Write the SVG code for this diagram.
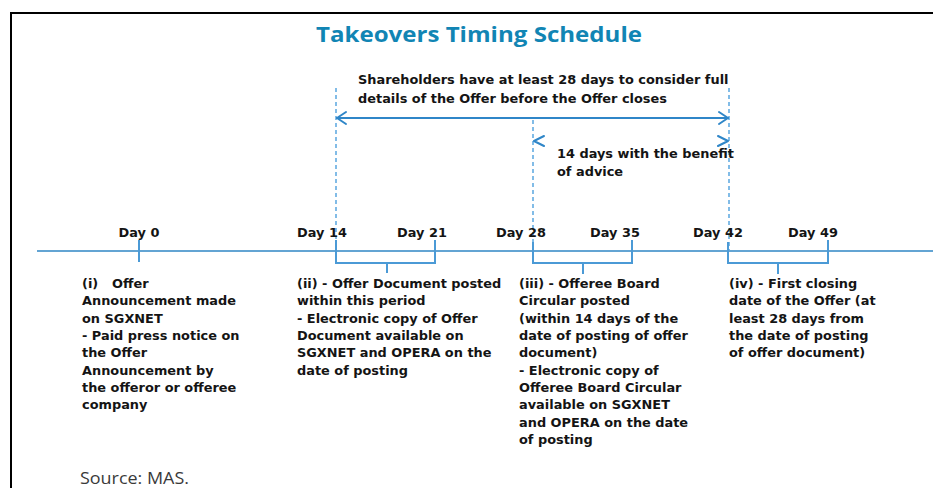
<svg xmlns="http://www.w3.org/2000/svg" width="933" height="488" viewBox="0 0 933 488">
  <style>
    .frame { stroke: #000; stroke-width: 2; fill: none; }
    .title { font-family: "Open Sans", "Liberation Sans", sans-serif; font-weight: bold; font-size: 21px; fill: #1185b4; }
    .lbl { font-family: "DejaVu Sans", "Liberation Sans", sans-serif; font-weight: bold; font-size: 12.9px; fill: #141414; }
    .src { font-family: "Open Sans", "Liberation Sans", sans-serif; font-size: 16px; fill: #3a3a3a; }
    .axis { stroke: #2f86c4; stroke-width: 1.5; fill: none; }
    .guide { stroke: #5aa7df; stroke-width: 1.5; stroke-dasharray: 4 3; fill: none; }
    .span { stroke: #2f86c8; stroke-width: 2; fill: none; stroke-linecap: round; stroke-linejoin: round; }
    .brace { stroke: #4b9ad6; stroke-width: 2; fill: none; }
  </style>

  <!-- page frame -->
  <path class="frame" d="M11,488 V13 H933"/>

  <text class="title" x="316" y="42" textLength="326" lengthAdjust="spacingAndGlyphs">Takeovers Timing Schedule</text>

  <g id="connectors">
    <!-- time axis -->
    <line class="axis" x1="37" y1="251" x2="933" y2="251"/>
    <!-- dashed guides -->
    <line class="guide" x1="336" y1="88" x2="336" y2="250"/>
    <line class="guide" x1="533" y1="120" x2="533" y2="250"/>
    <line class="guide" x1="729" y1="88" x2="729" y2="250"/>
    <!-- 28-day span -->
    <line class="span" x1="337" y1="118" x2="728" y2="118"/>
    <polyline class="span" points="346,112 337,118 346,124"/>
    <polyline class="span" points="719,112 728,118 719,124"/>
    <!-- 14-day span ends -->
    <polyline class="span" points="544,136 534,141 544,146"/>
    <polyline class="span" points="718,136 728,141 718,146"/>
    <!-- day 0 tick -->
    <line class="brace" x1="139" y1="240" x2="139" y2="262"/>
    <!-- period braces -->
    <path class="brace" d="M336,240 V263 H435 V240 M387,263 V273"/>
    <path class="brace" d="M533,242 V263 H632 V240 M583,263 V274"/>
    <path class="brace" d="M728,242 V263 H828 V240 M778,263 V274"/>
  </g>

  <g id="note-28-days">
    <text class="lbl" x="358" y="84">Shareholders have at least 28 days to consider full</text>
    <text class="lbl" x="358" y="103">details of the Offer before the Offer closes</text>
  </g>

  <g id="note-14-days">
    <text class="lbl" x="557" y="158">14 days with the benefit</text>
    <text class="lbl" x="557" y="176">of advice</text>
  </g>

  <g id="day-labels">
    <text class="lbl" x="139" y="237" text-anchor="middle">Day 0</text>
    <text class="lbl" x="322" y="237" text-anchor="middle">Day 14</text>
    <text class="lbl" x="422" y="237" text-anchor="middle">Day 21</text>
    <text class="lbl" x="521" y="237" text-anchor="middle">Day 28</text>
    <text class="lbl" x="615" y="237" text-anchor="middle">Day 35</text>
    <text class="lbl" x="718" y="237" text-anchor="middle">Day 42</text>
    <text class="lbl" x="813" y="237" text-anchor="middle">Day 49</text>
  </g>

  <g id="step-i">
    <text class="lbl" x="82" y="288">(i)<tspan x="112">Offer</tspan></text>
    <text class="lbl" x="82" y="305">Announcement made</text>
    <text class="lbl" x="82" y="323">on SGXNET</text>
    <text class="lbl" x="82" y="340">- Paid press notice on</text>
    <text class="lbl" x="82" y="357">the Offer</text>
    <text class="lbl" x="82" y="375">Announcement by</text>
    <text class="lbl" x="82" y="392">the offeror or offeree</text>
    <text class="lbl" x="82" y="409">company</text>
  </g>

  <g id="step-ii">
    <text class="lbl" x="297" y="288">(ii) - Offer Document posted</text>
    <text class="lbl" x="297" y="305">within this period</text>
    <text class="lbl" x="297" y="323">- Electronic copy of Offer</text>
    <text class="lbl" x="297" y="340">Document available on</text>
    <text class="lbl" x="297" y="357">SGXNET and OPERA on the</text>
    <text class="lbl" x="297" y="375">date of posting</text>
  </g>

  <g id="step-iii">
    <text class="lbl" x="519" y="288">(iii) - Offeree Board</text>
    <text class="lbl" x="519" y="305">Circular posted</text>
    <text class="lbl" x="519" y="323">(within 14 days of the</text>
    <text class="lbl" x="519" y="340">date of posting of offer</text>
    <text class="lbl" x="519" y="357">document)</text>
    <text class="lbl" x="519" y="375">- Electronic copy of</text>
    <text class="lbl" x="519" y="392">Offeree Board Circular</text>
    <text class="lbl" x="519" y="409">available on SGXNET</text>
    <text class="lbl" x="519" y="427">and OPERA on the date</text>
    <text class="lbl" x="519" y="444">of posting</text>
  </g>

  <g id="step-iv">
    <text class="lbl" x="729" y="288">(iv) - First closing</text>
    <text class="lbl" x="729" y="305">date of the Offer (at</text>
    <text class="lbl" x="729" y="323">least 28 days from</text>
    <text class="lbl" x="729" y="340">the date of posting</text>
    <text class="lbl" x="729" y="357">of offer document)</text>
  </g>

  <text class="src" x="80" y="484" textLength="109" lengthAdjust="spacingAndGlyphs">Source: MAS.</text>
</svg>
